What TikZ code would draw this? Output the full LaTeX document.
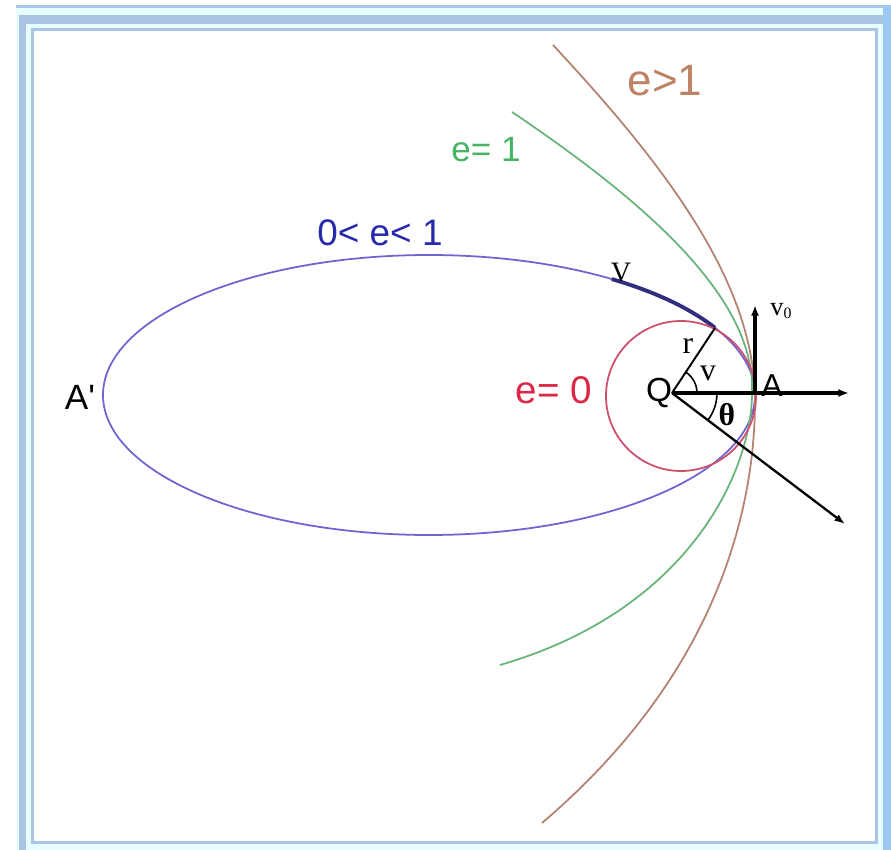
\documentclass[tikz,border=0pt]{standalone}
\usepackage{fontspec}
\setmainfont{Liberation Sans}
\newfontfamily\serifface{Liberation Serif}
\usepackage{xcolor}
\usepackage{tikz}
\usetikzlibrary{arrows.meta}
\definecolor{framecyan}{RGB}{232,255,255}
\definecolor{frameblue}{RGB}{170,196,228}
\definecolor{edgeblue}{RGB}{156,200,244}
\definecolor{orbitblue}{RGB}{110,100,210}
\definecolor{orbitdark}{RGB}{50,45,125}
\definecolor{circred}{RGB}{205,80,110}
\definecolor{parabgreen}{RGB}{105,180,125}
\definecolor{hypbrown}{RGB}{180,130,115}
\newcommand{\fsz}[1]{\fontsize{#1}{#1}\selectfont}

\begin{document}
\begin{tikzpicture}[>=Latex, x=0.2mm, y=-0.2mm,
  curve/.style={line width=1pt},
  axisline/.style={line width=1.8pt, -{Latex[length=6pt,width=4.5pt]}},
  lbl/.style={inner sep=0pt}]
  \useasboundingbox (0,0) rectangle (891,850);
  \fill[framecyan] (16,5) rectangle (891,850);
  \fill[frameblue] (16,5) rectangle (891,8);
  \fill[edgeblue] (883,5) rectangle (891,850);
  \fill[frameblue] (19,15) rectangle (26,850);
  \fill[frameblue] (19,15) rectangle (883,24);
  \draw[frameblue, line width=0.6mm, fill=white] (32.5,29.5) rectangle (876,842);
  \coordinate (Q) at (672,393);
  \coordinate (A) at (755,393);
  \coordinate (X) at (849,393);
  \coordinate (V0) at (755,305);
  \coordinate (R) at (715,328);
  \coordinate (D) at (845,524);
  \coordinate (P) at (752,393);
  \coordinate (H) at (755,400);
  \draw[curve, orbitblue] (429,395) ellipse [x radius=326, y radius=140];
  \draw[line width=2.2pt, orbitdark] plot[domain=28.7:55.9, samples=20] ({429+326*cos(\x)},{395-140*sin(\x)});
  \draw[curve, parabgreen] (512,112) .. controls (650,205) and (756,300) .. (P)
    .. controls (752,470) and (690,610) .. (500,665);
  \draw[curve, hypbrown] (553,45) .. controls (660,160) and (755,280) .. (H)
    .. controls (755,520) and (710,680) .. (542,823);
  \draw[curve, circred] (681,396) circle [radius=75];
  \draw[axisline] (Q) -- (X);
  \draw[axisline] (A) -- (V0);
  \draw[line width=1.3pt, -{Latex[length=6pt,width=4.5pt]}] (Q) -- (D);
  \draw[line width=1.1pt] (Q) -- (R);
  \draw[line width=0.9pt] (Q) ++(25,0) arc[start angle=0, end angle=-56, radius=25];
  \draw[line width=0.9pt] (Q) ++(45,0) arc[start angle=0, end angle=37, radius=45];
  \node[lbl, text={rgb,255:red,190;green,130;blue,100}, font=\fsz{25}] (ehyp) at (665,81) {e>1};
  \node[lbl, text={rgb,255:red,70;green,180;blue,100}, font=\fsz{20}] (eparab) at (486,150) {e= 1};
  \node[lbl, text={rgb,255:red,40;green,40;blue,170}, font=\fsz{21}] (eell) at (380,233) {0< e< 1};
  \node[lbl, text={rgb,255:red,220;green,40;blue,70}, font=\fsz{22}] (ecirc) at (554,390) {e= 0};
  \node[lbl, font=\fsz{20}] (aprime) at (80,397) {A\textquotesingle};
  \node[lbl, font=\fsz{19}] (qlabel) at (659,393) {Q};
  \node[lbl, font=\fsz{18}] (alabel) at (772,386) {A};
  \node[lbl, font=\serifface\fsz{15}] (vzero) at (781,311) {v{\fsz{9}\raisebox{-0.35ex}{0}}};
  \node[lbl, font=\serifface\fsz{18}] (rlabel) at (688,346) {r};
  \node[lbl, font=\serifface\fsz{18}] (nulabel) at (708,373) {v};
  \node[lbl, font=\serifface\bfseries\fsz{18}] (thetalabel) at (727,415) {θ};
  \node[lbl, font=\serifface\fsz{16}] (vlabel) at (621,273) {V};
\end{tikzpicture}
\end{document}
